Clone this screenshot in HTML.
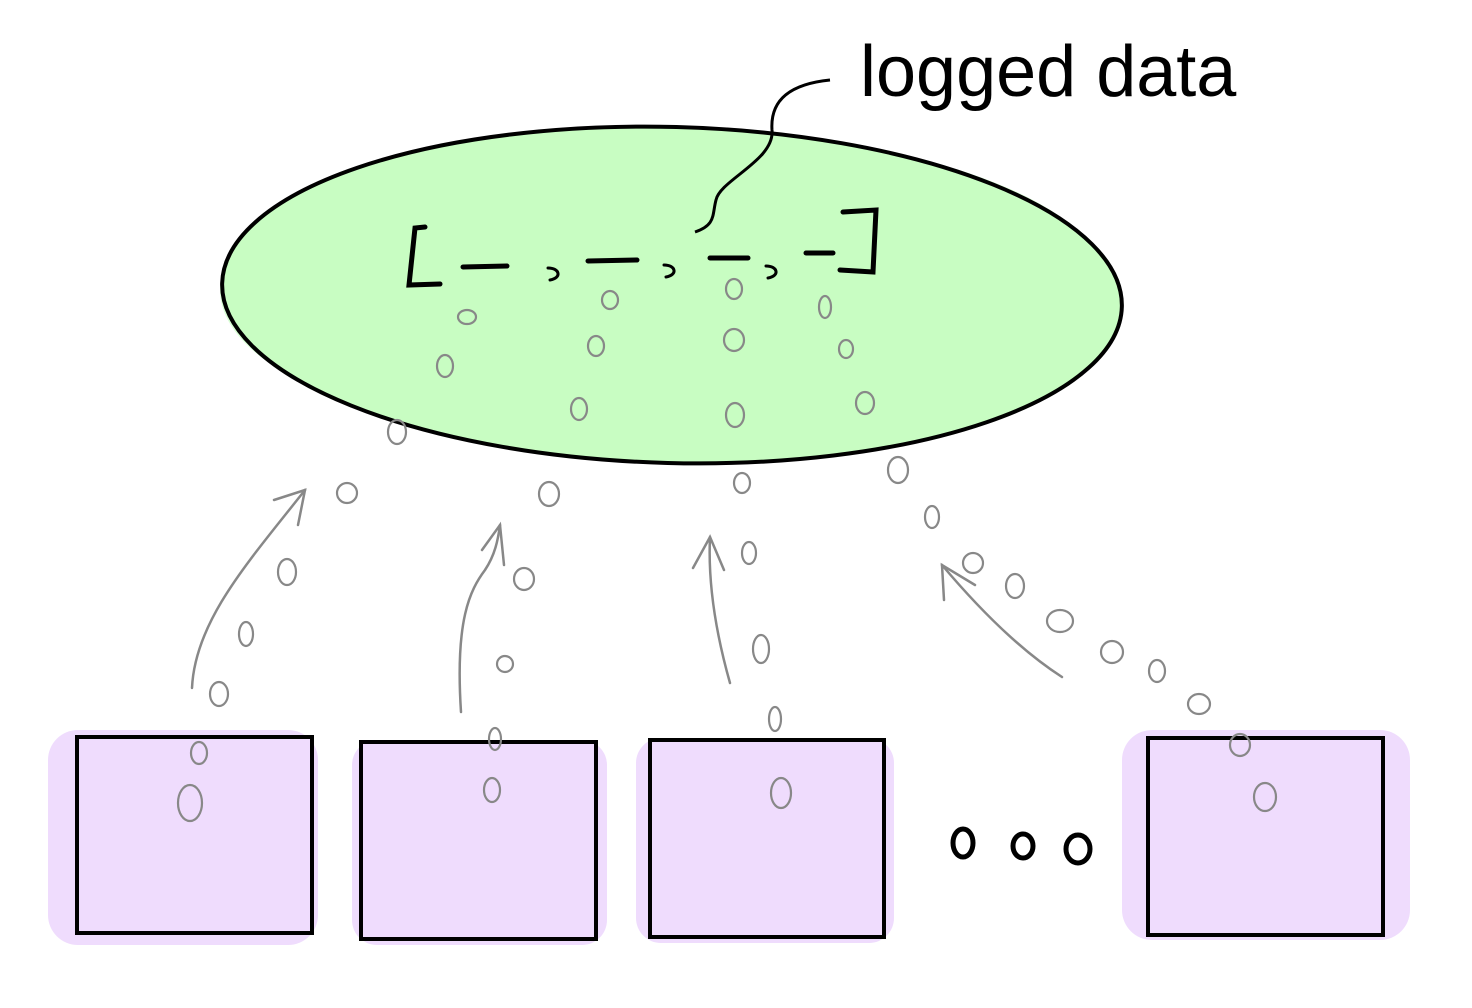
<!DOCTYPE html>
<html><head><meta charset="utf-8"><style>
html,body{margin:0;padding:0;background:#fff;width:1472px;height:1008px;overflow:hidden}
</style></head><body>
<svg width="1472" height="1008" viewBox="0 0 1472 1008" xmlns="http://www.w3.org/2000/svg">
<!-- green bleed -->
<ellipse cx="665" cy="290" rx="445" ry="160" fill="#c8fdc2" opacity="0.7"/>
<!-- green ellipse -->
<ellipse cx="672" cy="295" rx="450" ry="168" transform="rotate(1.5 672 295)" fill="#c8fdc2" stroke="#000" stroke-width="4"/>
<!-- label -->
<text x="860" y="96" font-family="Liberation Sans, sans-serif" font-size="72" font-weight="300" fill="#000">logged data</text>
<path d="M830 80 C790 84 770 100 772 130 C775 160 720 180 716 200 C712 215 716 225 695 232" fill="none" stroke="#000" stroke-width="3"/>
<!-- bracket list -->
<g fill="none" stroke="#000" stroke-width="5" stroke-linecap="round">
<path d="M425 227 L415 228 L409 285 L440 284"/>
<path d="M463 267 L507 266"/>
<path d="M588 261 L637 260"/>
<path d="M710 258 L748 258"/>
<path d="M806 253 L833 253"/>
<path d="M843 212 L876 210 L873 272 L840 270"/>
<path d="M548 268 C560 268 562 278 550 280" stroke-width="3"/>
<path d="M664 265 C676 265 678 275 666 277" stroke-width="3"/>
<path d="M766 266 C778 266 780 276 768 278" stroke-width="3"/>
</g>
<!-- purple bleed -->
<g fill="#efdcfd">
<rect x="48" y="730" width="270" height="215" rx="30"/>
<rect x="352" y="740" width="255" height="205" rx="25"/>
<rect x="636" y="738" width="258" height="205" rx="25"/>
<rect x="1122" y="730" width="288" height="210" rx="30"/>
</g>
<!-- boxes -->
<g fill="#efdcfd" stroke="#000" stroke-width="4">
<rect x="77" y="737" width="235" height="196"/>
<rect x="361" y="742" width="235" height="197"/>
<rect x="650" y="740" width="234" height="197"/>
<rect x="1148" y="738" width="235" height="197"/>
</g>
<!-- dots -->
<g fill="none" stroke="#000" stroke-width="5">
<ellipse cx="963" cy="843" rx="10" ry="14"/>
<ellipse cx="1023" cy="846" rx="10" ry="12"/>
<ellipse cx="1078" cy="849" rx="12" ry="14"/>
</g>
<!-- arrows -->
<g fill="none" stroke="#888" stroke-width="2.5" stroke-linecap="round">
<path d="M192 688 C195 620 250 560 305 490"/>
<path d="M274 500 L305 490 L298 525"/>
<path d="M461 712 C455 620 470 590 485 570 C495 555 498 540 500 525"/>
<path d="M482 550 L500 525 L504 565"/>
<path d="M730 683 C715 630 708 580 710 537"/>
<path d="M693 568 L710 537 L724 570"/>
<path d="M1062 677 C1020 650 980 610 942 565"/>
<path d="M944 600 L942 565 L975 585"/>
</g>
<!-- zeros -->
<g fill="none" stroke="#888" stroke-width="2.2">
<ellipse cx="467" cy="317" rx="9" ry="7"/><ellipse cx="445" cy="366" rx="8" ry="11"/><ellipse cx="397" cy="432" rx="9" ry="12"/>
<ellipse cx="610" cy="300" rx="8" ry="9"/><ellipse cx="596" cy="346" rx="8" ry="10"/><ellipse cx="579" cy="409" rx="8" ry="11"/>
<ellipse cx="734" cy="289" rx="8" ry="10"/><ellipse cx="734" cy="340" rx="10" ry="11"/><ellipse cx="735" cy="415" rx="9" ry="12"/>
<ellipse cx="825" cy="307" rx="6" ry="11"/><ellipse cx="846" cy="349" rx="7" ry="9"/><ellipse cx="865" cy="403" rx="9" ry="11"/>
<ellipse cx="347" cy="493" rx="10" ry="10"/><ellipse cx="287" cy="572" rx="9" ry="13"/><ellipse cx="246" cy="634" rx="7" ry="12"/><ellipse cx="219" cy="694" rx="9" ry="12"/><ellipse cx="199" cy="753" rx="8" ry="11"/><ellipse cx="190" cy="803" rx="12" ry="18"/>
<ellipse cx="549" cy="494" rx="10" ry="12"/><ellipse cx="524" cy="579" rx="10" ry="11"/><ellipse cx="505" cy="664" rx="8" ry="8"/><ellipse cx="495" cy="739" rx="6" ry="11"/><ellipse cx="492" cy="790" rx="8" ry="12"/>
<ellipse cx="742" cy="483" rx="8" ry="10"/><ellipse cx="749" cy="553" rx="7" ry="11"/><ellipse cx="761" cy="649" rx="8" ry="14"/><ellipse cx="775" cy="719" rx="6" ry="12"/><ellipse cx="781" cy="793" rx="10" ry="15"/>
<ellipse cx="898" cy="470" rx="10" ry="13"/><ellipse cx="932" cy="517" rx="7" ry="11"/><ellipse cx="973" cy="563" rx="10" ry="10"/><ellipse cx="1015" cy="586" rx="9" ry="12"/><ellipse cx="1060" cy="621" rx="13" ry="11"/><ellipse cx="1112" cy="652" rx="11" ry="11"/><ellipse cx="1157" cy="671" rx="8" ry="11"/><ellipse cx="1199" cy="704" rx="11" ry="10"/><ellipse cx="1240" cy="745" rx="10" ry="11"/><ellipse cx="1265" cy="797" rx="11" ry="14"/>
</g>
</svg>
</body></html>
